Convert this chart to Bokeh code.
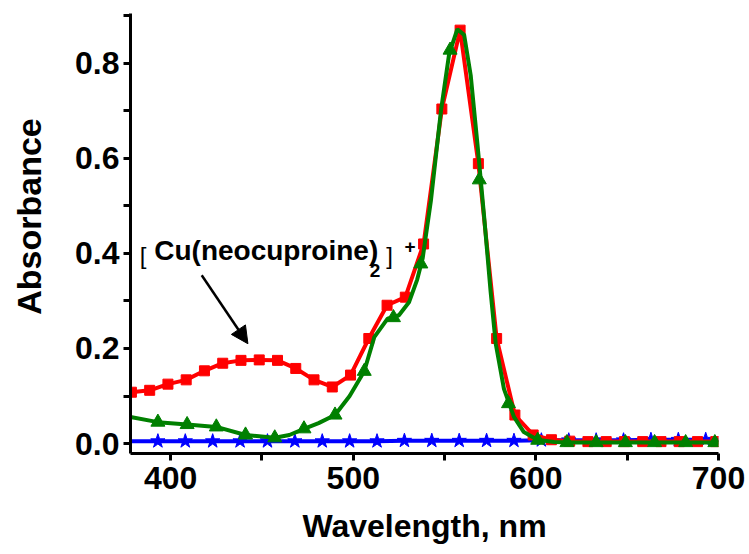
from bokeh.plotting import figure
from bokeh.models import (FixedTicker, PrintfTickFormatter, Label, Arrow,
                          NormalHead, Range1d)
from bokeh.embed import file_html
from bokeh.resources import INLINE

# --- spectra -------------------------------------------------------------
# red: squares every 10 nm
red_wl = [378.5, 388.5, 398.5, 408.5, 418.5, 428.5, 438.5, 448.5, 458.5,
          468.5, 478.5, 488.5, 498.5, 508.5, 518.5, 528.5, 538.5, 548.5,
          558.5, 568.5, 578.5, 588.5, 598.5, 608.5, 618.5, 628.5, 638.5,
          648.5, 658.5, 668.5, 678.5, 688.5, 698.5]
red_ab = [0.108, 0.112, 0.125, 0.134, 0.153, 0.169, 0.175, 0.176, 0.175,
          0.158, 0.134, 0.119, 0.144, 0.221, 0.291, 0.308, 0.420, 0.704,
          0.870, 0.589, 0.221, 0.060, 0.018, 0.008, 0.005, 0.004, 0.004,
          0.004, 0.004, 0.004, 0.004, 0.004, 0.004]

# green: smooth trace plus triangle symbols
green_line_wl = [378, 393, 409, 425, 441, 457, 465, 473, 481, 490, 498, 506,
                 511.5, 518.8, 525, 530.6, 535, 538, 542.5, 548, 552.5, 557,
                 560.7, 564.3, 568, 571.6, 575.2, 578, 582.5, 588, 593.4,
                 600.8, 610, 620, 640, 660, 680, 700]
green_line_ab = [0.056, 0.045, 0.040, 0.035, 0.018, 0.012, 0.018, 0.031,
                 0.043, 0.060, 0.100, 0.152, 0.224, 0.263, 0.270, 0.298,
                 0.345, 0.390, 0.511, 0.700, 0.820, 0.872, 0.860, 0.775,
                 0.630, 0.480, 0.320, 0.210, 0.115, 0.056, 0.024, 0.008,
                 0.003, 0.002, 0.002, 0.002, 0.002, 0.002]
green_mk_wl = [393, 409, 425, 441, 457, 473, 490, 506, 522, 537, 553, 569,
               585, 601, 617, 633, 649, 665, 682, 698]
green_mk_ab = [0.045, 0.040, 0.035, 0.018, 0.012, 0.031, 0.060, 0.152, 0.265,
               0.378, 0.828, 0.555, 0.084, 0.007, 0.002, 0.002, 0.002, 0.002,
               0.002, 0.002]

# blue: flat baseline with stars every 15 nm
blue_wl = [378, 393, 408, 423, 438, 453, 468, 483, 498, 513, 528, 543, 558,
           573, 588, 603, 618, 633, 648, 663, 678, 693, 700]
blue_ab = [0.005, 0.005, 0.005, 0.005, 0.005, 0.005, 0.005, 0.005, 0.005,
           0.005, 0.006, 0.006, 0.006, 0.006, 0.006, 0.007, 0.007, 0.007,
           0.007, 0.008, 0.008, 0.008, 0.008]

x_ticks = [400, 500, 600, 700]
x_minor = [450, 550, 650]
y_ticks = [0.0, 0.2, 0.4, 0.6, 0.8]
y_minor = [0.1, 0.3, 0.5, 0.7, 0.9]

FONT = "Liberation Sans"

p = figure(width=749, height=554, output_backend="svg", toolbar_location=None,
           x_range=Range1d(378, 700), y_range=Range1d(-0.021, 0.905),
           min_border_left=130, min_border_right=31, min_border_top=13,
           min_border_bottom=101)
p.outline_line_color = None
p.grid.visible = False
p.background_fill_color = "white"
p.border_fill_color = "white"

# traces: blue underneath, then red, then green on top
p.line(blue_wl, blue_ab, line_color="#0000FF", line_width=4)
p.scatter(blue_wl[1:-1], blue_ab[1:-1], marker="star", size=15,
          fill_color="#0000FF", line_color="#0000FF")

p.line(red_wl, red_ab, line_color="#FF0000", line_width=4)
p.scatter(red_wl, red_ab, marker="square", size=10,
          fill_color="#FF0000", line_color="#FF0000")

p.line(green_line_wl, green_line_ab, line_color="#008000", line_width=4)
p.scatter(green_mk_wl, green_mk_ab, marker="triangle", size=14,
          fill_color="#008000", line_color="#008000")

# axes
for ax in (p.xaxis[0], p.yaxis[0]):
    ax.axis_line_width = 3
    ax.major_tick_line_width = 3
    ax.minor_tick_line_width = 3
    ax.major_tick_in = 0
    ax.minor_tick_in = 0
    ax.major_tick_out = 7
    ax.minor_tick_out = 7
    ax.major_label_text_font = FONT
    ax.major_label_text_font_style = "bold"
    ax.major_label_text_font_size = "32px"
    ax.major_label_text_color = "black"
    ax.axis_label_text_font = FONT
    ax.axis_label_text_font_style = "bold"
    ax.axis_label_text_color = "black"

p.xaxis.ticker = FixedTicker(ticks=x_ticks, minor_ticks=x_minor)
p.yaxis.ticker = FixedTicker(ticks=y_ticks, minor_ticks=y_minor)
p.yaxis.formatter = PrintfTickFormatter(format="%.1f")
p.xaxis.major_label_standoff = 6
p.yaxis.major_label_standoff = 4
p.xaxis.axis_label = "Wavelength, nm"
p.xaxis.axis_label_text_font_size = "32px"
p.xaxis.axis_label_standoff = 16
# the leading em space lifts the title a little above the frame centre
p.yaxis.axis_label = "\u2003Absorbance"
p.yaxis.axis_label_text_font_size = "34px"
p.yaxis.axis_label_standoff = 24

# species label with arrow to the 450 nm band
p.add_layout(Label(x=383, y=0.368, text="[", text_font=FONT,
                   text_font_size="24px", text_color="black"))
p.add_layout(Label(x=391, y=0.374, text="Cu(neocuproine)", text_font=FONT,
                   text_font_style="bold", text_font_size="28px",
                   text_color="black"))
p.add_layout(Label(x=509, y=0.350, text="2", text_font=FONT,
                   text_font_style="bold", text_font_size="19px",
                   text_color="black"))
p.add_layout(Label(x=518, y=0.368, text="]", text_font=FONT,
                   text_font_size="24px", text_color="black"))
p.add_layout(Label(x=528, y=0.402, text="+", text_font=FONT,
                   text_font_style="bold", text_font_size="19px",
                   text_color="black"))
p.add_layout(Arrow(x_start=417, y_start=0.354, x_end=442.3, y_end=0.210,
                   line_width=2.5, line_color="black",
                   end=NormalHead(size=17, fill_color="black",
                                  line_color="black")))

open("out.html", "w").write(file_html(p, INLINE))
